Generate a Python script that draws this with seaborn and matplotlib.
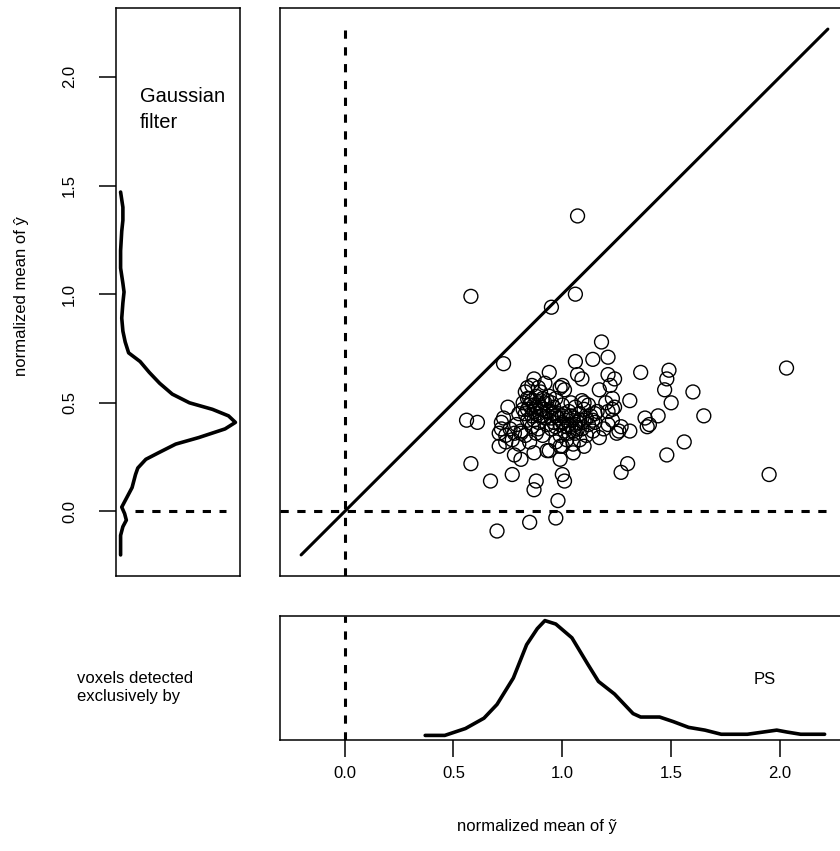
import matplotlib
matplotlib.use("Agg")
import matplotlib.pyplot as plt
import seaborn as sns
import pandas as pd

# ---- scatter data: normalized means (x: PS, y: Gaussian filter) ----
x_vals = [1.07, 0.58, 1.06, 0.95, 0.73, 2.03, 1.95,
          0.56, 0.61, 0.58, 0.67, 0.77, 0.88, 0.87,
          0.70, 0.85, 0.97, 0.98, 1.00, 1.01,
          1.27, 1.30, 1.48, 1.56, 1.65, 1.60, 1.50,
          1.47, 1.49, 1.48, 1.36, 1.18, 1.21, 1.14,
          1.06, 1.07, 1.09, 0.94, 1.21, 1.24, 1.31,
          1.44, 1.38, 1.40, 1.39, 1.31, 1.25, 1.17,
          0.87, 0.84, 0.99, 0.75, 0.72, 0.71, 0.74,
          0.71, 0.78, 0.81, 0.87, 0.93, 0.99, 1.10,
          1.05, 0.94, 0.99, 0.81, 1.17, 1.22, 1.23,
          1.23, 1.20, 1.10, 1.00, 1.01, 1.23, 1.14,
          1.19, 1.26, 1.24, 1.27, 1.15, 1.21, 1.21,
          0.82, 0.84, 0.85, 0.86, 0.87, 0.88, 0.88, 0.89, 0.90, 0.90,
          0.91, 0.92, 0.93, 0.93, 0.94, 0.95, 0.86, 0.84, 0.80, 0.79,
          0.81, 0.83, 0.85, 0.88, 0.91, 0.89, 0.86, 0.92, 0.83, 0.96,
          0.97, 0.97, 0.95, 0.78, 0.76, 0.77, 0.80, 0.74, 0.72, 0.73,
          0.99, 1.00, 1.01, 1.02, 1.03, 1.04, 1.05, 1.06, 1.07, 1.08,
          1.09, 1.10, 1.11, 1.12, 1.13, 1.14, 0.99, 1.00, 1.02, 1.04,
          1.06, 1.08, 1.10, 0.98, 1.15, 1.16, 1.05, 0.97, 1.00, 0.96,
          1.03, 1.09, 1.12,
          0.83, 0.85, 0.87, 0.89, 0.91, 0.92, 0.94, 0.95, 0.87, 0.89,
          0.90, 0.86, 0.88, 0.98, 1.00, 1.02, 1.04, 1.06, 1.08, 1.03,
          1.01, 0.97, 0.93, 0.84, 0.82, 1.05, 1.07, 1.11, 0.96, 0.91]
y_vals = [1.36, 0.99, 1.00, 0.94, 0.68, 0.66, 0.17,
          0.42, 0.41, 0.22, 0.14, 0.17, 0.14, 0.10,
          -0.09, -0.05, -0.03, 0.05, 0.17, 0.14,
          0.18, 0.22, 0.26, 0.32, 0.44, 0.55, 0.50,
          0.56, 0.65, 0.61, 0.64, 0.78, 0.71, 0.70,
          0.69, 0.63, 0.61, 0.64, 0.63, 0.61, 0.51,
          0.44, 0.43, 0.40, 0.39, 0.37, 0.36, 0.34,
          0.61, 0.57, 0.57, 0.48, 0.41, 0.36, 0.32,
          0.30, 0.26, 0.24, 0.27, 0.28, 0.30, 0.30,
          0.27, 0.28, 0.24, 0.36, 0.56, 0.58, 0.52,
          0.47, 0.50, 0.50, 0.58, 0.56, 0.42, 0.42,
          0.38, 0.37, 0.48, 0.39, 0.45, 0.46, 0.40,
          0.50, 0.47, 0.52, 0.44, 0.49, 0.53, 0.45, 0.41, 0.48, 0.55,
          0.44, 0.50, 0.46, 0.40, 0.53, 0.43, 0.39, 0.42, 0.45, 0.40,
          0.37, 0.35, 0.32, 0.36, 0.35, 0.57, 0.58, 0.59, 0.55, 0.48,
          0.52, 0.44, 0.38, 0.36, 0.38, 0.33, 0.31, 0.35, 0.38, 0.43,
          0.40, 0.44, 0.37, 0.42, 0.46, 0.39, 0.43, 0.36, 0.41, 0.45,
          0.38, 0.42, 0.35, 0.40, 0.44, 0.37, 0.35, 0.49, 0.33, 0.50,
          0.48, 0.33, 0.47, 0.45, 0.41, 0.46, 0.31, 0.32, 0.30, 0.41,
          0.36, 0.51, 0.49,
          0.45, 0.49, 0.46, 0.50, 0.47, 0.43, 0.46, 0.50, 0.42, 0.38,
          0.44, 0.51, 0.48, 0.43, 0.41, 0.39, 0.44, 0.40, 0.42, 0.40,
          0.45, 0.39, 0.51, 0.52, 0.47, 0.37, 0.38, 0.43, 0.45, 0.52]

# ---- density of y for voxels detected exclusively by Gaussian filter (left panel) ----
left_y = [-0.20, -0.11, -0.07, -0.04, -0.01, 0.02, 0.06, 0.11, 0.17, 0.20,
          0.24, 0.27, 0.31, 0.34, 0.38, 0.41, 0.44, 0.47, 0.50, 0.54,
          0.59, 0.64, 0.69, 0.73, 0.78, 0.83, 0.89, 0.96, 1.01, 1.05,
          1.12, 1.20, 1.29, 1.34, 1.40, 1.47]
left_dens = [0.00, 0.00, 0.02, 0.05, 0.035, 0.01, 0.05, 0.10, 0.13, 0.15,
             0.22, 0.33, 0.48, 0.68, 0.91, 1.00, 0.94, 0.80, 0.60, 0.45,
             0.34, 0.25, 0.17, 0.07, 0.04, 0.02, 0.01, 0.02, 0.03, 0.02,
             0.00, 0.00, 0.01, 0.02, 0.02, 0.00]

# ---- density of x for voxels detected exclusively by PS (bottom panel) ----
bot_x = [0.37, 0.46, 0.555, 0.64, 0.70, 0.775, 0.836, 0.885, 0.92, 0.97,
         1.044, 1.117, 1.166, 1.24, 1.325, 1.36, 1.447, 1.51, 1.58, 1.655,
         1.73, 1.85, 1.925, 1.985, 2.03, 2.095, 2.205]
bot_dens = [0.00, 0.00, 0.06, 0.15, 0.27, 0.50, 0.79, 0.93, 1.00, 0.97,
            0.85, 0.62, 0.47, 0.36, 0.19, 0.16, 0.16, 0.12, 0.07, 0.046,
            0.01, 0.01, 0.03, 0.046, 0.03, 0.01, 0.01]

ticks = [0.0, 0.5, 1.0, 1.5, 2.0]
tick_labels = ["0.0", "0.5", "1.0", "1.5", "2.0"]
diag = [-0.2, 2.22]

sns.set_theme(style="white")
plt.rcParams['font.family'] = ['Liberation Sans', 'DejaVu Sans']
plt.rcParams['axes.edgecolor'] = 'black'
plt.rcParams['axes.linewidth'] = 1.1
plt.rcParams['text.color'] = 'black'
plt.rcParams['xtick.color'] = 'black'
plt.rcParams['ytick.color'] = 'black'

W, H = 840, 851
fig = plt.figure(figsize=(W / 100, H / 100), dpi=100)
fig.patch.set_facecolor('white')


def rect(x0, y0, x1, y1):
    return [x0 / W, 1 - y1 / H, (x1 - x0) / W, (y1 - y0) / H]


ax_main = fig.add_axes(rect(280, 8, 849, 576))
ax_left = fig.add_axes(rect(116, 8, 240, 576))
ax_bot = fig.add_axes(rect(280, 616, 849, 740))
lim = (-0.297, 2.317)
dash = (0, (2.7, 2.8))
FS = 12

# main scatter
df = pd.DataFrame({"x": x_vals, "y": y_vals})
sns.scatterplot(data=df, x="x", y="y", ax=ax_main, marker='o', s=100,
                facecolor='none', edgecolor='black', linewidth=1.0, zorder=3)
sns.lineplot(x=diag, y=diag, ax=ax_main, color='black', lw=2.2,
             estimator=None, sort=False)
ax_main.plot([0, 0], [lim[0], diag[1]], color='black', lw=2.2, linestyle=dash)
ax_main.plot([lim[0], diag[1]], [0, 0], color='black', lw=2.2, linestyle=dash)
ax_main.set_xlim(lim)
ax_main.set_ylim(lim)
ax_main.set_xticks([])
ax_main.set_yticks([])
ax_main.set_xlabel("")
ax_main.set_ylabel("")

# left density
lmax = max(left_dens)
sns.lineplot(x=left_dens, y=left_y, ax=ax_left, color='black', lw=2.6,
             estimator=None, sort=False, orient='y')
ax_left.plot([0.124 * lmax, 0.92 * lmax], [0, 0], color='black', lw=2.2,
             linestyle=dash)
ax_left.set_xlim(-0.04 * lmax, 1.04 * lmax)
ax_left.set_ylim(lim)
ax_left.set_xticks([])
ax_left.set_yticks(ticks)
ax_left.set_yticklabels(tick_labels, rotation=90, va='center', fontsize=FS)
ax_left.tick_params(axis='y', length=12, width=1.1, pad=16, left=True)
ax_left.set_xlabel("")
ax_left.set_ylabel("")

# bottom density
bmax = max(bot_dens)
sns.lineplot(x=bot_x, y=bot_dens, ax=ax_bot, color='black', lw=2.6,
             estimator=None, sort=False)
ax_bot.axvline(0, color='black', lw=2.2, linestyle=dash)
ax_bot.set_xlim(lim)
ax_bot.set_ylim(-0.04 * bmax, 1.04 * bmax)
ax_bot.set_yticks([])
ax_bot.set_xticks(ticks)
ax_bot.set_xticklabels(tick_labels, fontsize=FS)
ax_bot.tick_params(axis='x', length=12, width=1.1, pad=7, bottom=True)
ax_bot.set_xlabel("")
ax_bot.set_ylabel("")

# texts
fig.text(140 / W, 1 - 87 / H, "Gaussian\nfilter", ha='left', va='top',
         fontsize=14.5, linespacing=1.45)
fig.text(77 / W, 1 - 671 / H, "voxels detected\nexclusively by", ha='left',
         va='top', fontsize=FS, linespacing=1.25)
fig.text(765 / W, 1 - 680 / H, "PS", ha='center', va='center', fontsize=FS)
fig.text(537 / W, 1 - 826 / H, "normalized mean of \u1ef9", ha='center',
         va='center', fontsize=FS)
fig.text(22 / W, 1 - 296 / H, "normalized mean of \u0177", ha='center',
         va='center', rotation=90, fontsize=FS)

fig.savefig("out.png", dpi=100, facecolor='white')
